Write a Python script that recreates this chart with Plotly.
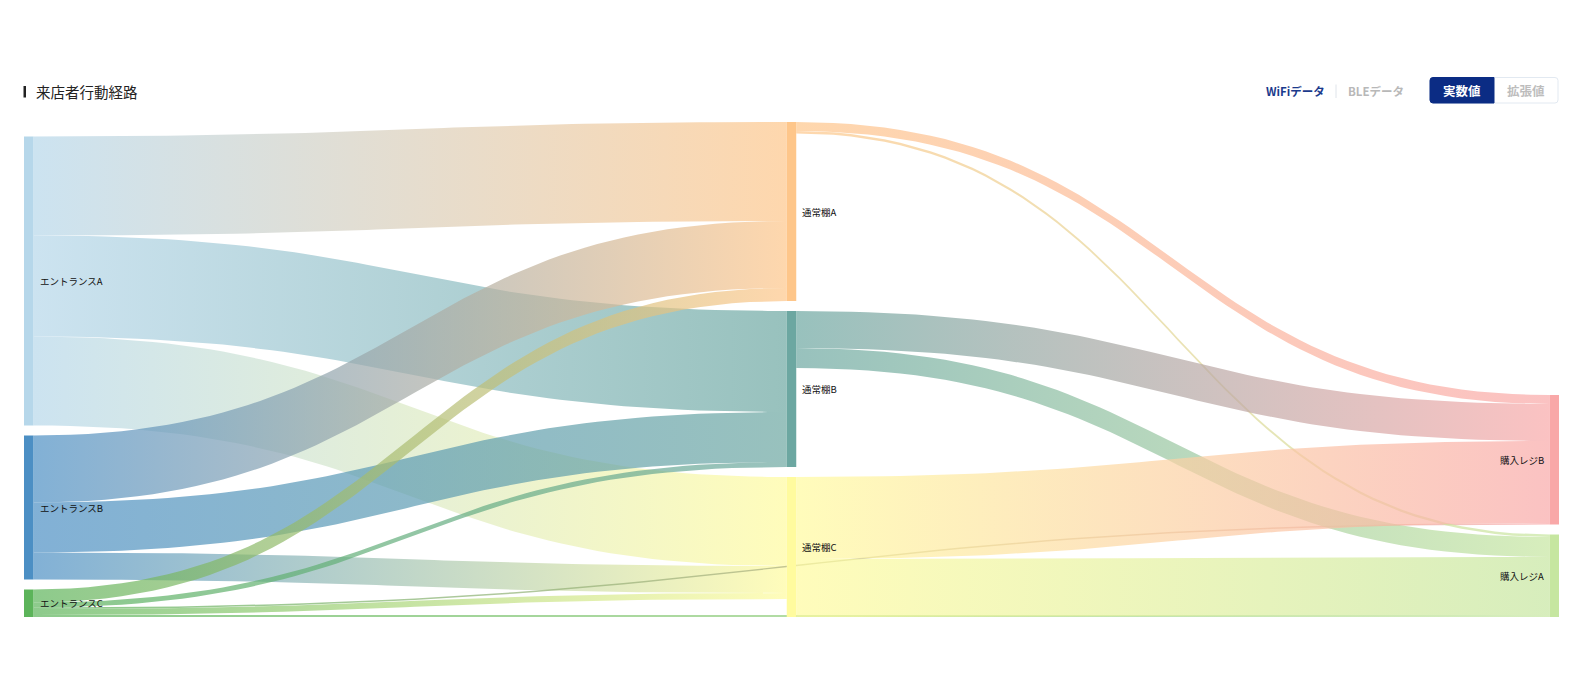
import numpy as np
import plotly.graph_objects as go

# ---------------- data ----------------
node_labels = ["エントランスA", "エントランスB", "エントランスC",
               "通常棚A", "通常棚B", "通常棚C",
               "購入レジB", "購入レジA"]
node_depth = [0, 0, 0, 1, 1, 1, 2, 2]
node_colors = ["#b6d7ea", "#4c8fc4", "#5cb45a",
               "#fec68a", "#6ca7a1", "#fffb9e",
               "#f9a8a8", "#c6e6a0"]

link_source = [0, 0, 0, 1, 1, 1, 2, 2, 2, 2, 2, 3, 3, 4, 4, 5, 5]
link_target = [3, 4, 5, 3, 4, 5, 3, 4, 5, 6, 7, 6, 7, 6, 7, 6, 7]
link_value = [99, 101, 89, 67, 50, 27, 13, 5, 6, 1.5, 2, 9, 2.5, 37, 20, 82, 58]

title_text = "来店者行動経路"
tab_labels = ["WiFiデータ", "BLEデータ"]
button_labels = ["実数値", "拡張値"]

# ---------------- layout constants ----------------
W, H = 1580, 700
ML, MR, MT, MB = 24, 21, 122, 83
PW, PH = W - ML - MR, H - MT - MB
NODE_W = 9.5
NODE_PAD = 10
LINK_OPACITY = 0.7
FONT = "Noto Sans CJK JP"

n = len(node_labels)
in_sum = np.zeros(n)
out_sum = np.zeros(n)
for s, t, v in zip(link_source, link_target, link_value):
    out_sum[s] += v
    in_sum[t] += v
node_val = np.maximum(in_sum, out_sum)

max_depth = max(node_depth)
cols = {d: [i for i in range(n) if node_depth[i] == d] for d in range(max_depth + 1)}
col_extent = {d: node_val[c].sum() + (len(c) - 1) * NODE_PAD for d, c in cols.items()}
YMAX = max(col_extent.values())

node_x = np.zeros(n)
node_y0 = np.zeros(n)
for d, c in cols.items():
    y = YMAX - col_extent[d]  # bottom aligned columns
    for i in c:
        node_x[i] = d * (PW - NODE_W) / max_depth
        node_y0[i] = y
        y += node_val[i] + NODE_PAD

# link offsets (source links sorted by target y, target links by source y)
L = len(link_value)
sy = np.zeros(L)
ty = np.zeros(L)
for i in range(n):
    outs = sorted([k for k in range(L) if link_source[k] == i], key=lambda k: node_y0[link_target[k]])
    off = node_y0[i]
    for k in outs:
        sy[k] = off
        off += link_value[k]
    ins = sorted([k for k in range(L) if link_target[k] == i], key=lambda k: node_y0[link_source[k]])
    off = node_y0[i]
    for k in ins:
        ty[k] = off
        off += link_value[k]


def bezier(x0, y0, x1, y1, m=60):
    t = np.linspace(0, 1, m)
    xm = (x0 + x1) / 2
    bx = (1 - t) ** 3 * x0 + 3 * (1 - t) ** 2 * t * xm + 3 * (1 - t) * t ** 2 * xm + t ** 3 * x1
    by = (1 - t) ** 3 * y0 + 3 * (1 - t) ** 2 * t * y0 + 3 * (1 - t) * t ** 2 * y1 + t ** 3 * y1
    return bx, by


fig = go.Figure()

# links
for k in range(L):
    s, t, v = link_source[k], link_target[k], link_value[k]
    x0 = node_x[s] + NODE_W
    x1 = node_x[t]
    tx, tyy = bezier(x0, sy[k], x1, ty[k])
    bx, byy = bezier(x0, sy[k] + v, x1, ty[k] + v)
    xs = np.concatenate([tx, bx[::-1], tx[:1]])
    ys = np.concatenate([tyy, byy[::-1], tyy[:1]])
    fig.add_trace(go.Scatter(
        x=xs, y=ys, mode="lines", fill="toself",
        line=dict(width=0),
        fillgradient=dict(type="horizontal",
                          colorscale=[[0, node_colors[s]], [1, node_colors[t]]]),
        opacity=LINK_OPACITY, hoverinfo="skip", showlegend=False,
    ))

# nodes
for i in range(n):
    x0, x1 = node_x[i], node_x[i] + NODE_W
    y0, y1 = node_y0[i], node_y0[i] + node_val[i]
    fig.add_trace(go.Scatter(
        x=[x0, x1, x1, x0, x0], y=[y0, y0, y1, y1, y0],
        mode="lines", fill="toself", fillcolor=node_colors[i],
        line=dict(width=0), hoverinfo="skip", showlegend=False,
    ))

annotations = []
for i in range(n):
    yc = node_y0[i] + node_val[i] / 2
    if node_depth[i] < max_depth:
        annotations.append(dict(x=node_x[i] + NODE_W + 4, y=yc, xref="x", yref="y",
                                text=node_labels[i], showarrow=False, xanchor="left",
                                yanchor="middle", font=dict(size=9.5, color="#111", family=FONT)))
    else:
        annotations.append(dict(x=node_x[i] - 4, y=yc, xref="x", yref="y",
                                text=node_labels[i], showarrow=False, xanchor="right",
                                yanchor="middle", font=dict(size=9.5, color="#111", family=FONT)))


def px(xp):
    return (xp - ML) / PW


def py(yp):
    return 1 - (yp - MT) / PH


# header texts
annotations.append(dict(x=px(34), y=py(91.5), xref="paper", yref="paper", text=title_text,
                        showarrow=False, xanchor="left", yanchor="middle",
                        font=dict(size=14.5, color="#222", family=FONT)))
annotations.append(dict(x=px(1295.5), y=py(91), xref="paper", yref="paper", text=tab_labels[0],
                        showarrow=False, xanchor="center", yanchor="middle",
                        font=dict(size=11.5, color="#1b3a8c", family=FONT, weight="bold")))
annotations.append(dict(x=px(1375.5), y=py(91), xref="paper", yref="paper", text=tab_labels[1],
                        showarrow=False, xanchor="center", yanchor="middle",
                        font=dict(size=11.5, color="#b8b8b8", family=FONT, weight="bold")))
annotations.append(dict(x=px(1462), y=py(90.5), xref="paper", yref="paper", text=button_labels[0],
                        showarrow=False, xanchor="center", yanchor="middle",
                        font=dict(size=12.5, color="#ffffff", family=FONT, weight="bold")))
annotations.append(dict(x=px(1526), y=py(90.5), xref="paper", yref="paper", text=button_labels[1],
                        showarrow=False, xanchor="center", yanchor="middle",
                        font=dict(size=12.5, color="#bdbdbd", family=FONT, weight="bold")))


def rrect(x0, y0, x1, y1, r, left=True, right=True):
    rl = r if left else 0
    rr = r if right else 0
    p = []
    p.append(f"M {px(x0 + rl)},{py(y0)}")
    p.append(f"L {px(x1 - rr)},{py(y0)}")
    if rr:
        p.append(f"Q {px(x1)},{py(y0)} {px(x1)},{py(y0 + rr)}")
    p.append(f"L {px(x1)},{py(y1 - rr)}")
    if rr:
        p.append(f"Q {px(x1)},{py(y1)} {px(x1 - rr)},{py(y1)}")
    p.append(f"L {px(x0 + rl)},{py(y1)}")
    if rl:
        p.append(f"Q {px(x0)},{py(y1)} {px(x0)},{py(y1 - rl)}")
    p.append(f"L {px(x0)},{py(y0 + rl)}")
    if rl:
        p.append(f"Q {px(x0)},{py(y0)} {px(x0 + rl)},{py(y0)}")
    p.append("Z")
    return " ".join(p)


shapes = [
    dict(type="rect", xref="paper", yref="paper", x0=px(23.5), x1=px(26), y0=py(97.5), y1=py(86),
         fillcolor="#222", line=dict(width=0), layer="above"),
    dict(type="line", xref="paper", yref="paper", x0=px(1336), x1=px(1336), y0=py(84.5), y1=py(98),
         line=dict(color="#dfe4ea", width=1)),
    dict(type="path", xref="paper", yref="paper", path=rrect(1430, 77.5, 1558, 103, 3),
         fillcolor="#ffffff", line=dict(color="#e2e9f1", width=1)),
    dict(type="path", xref="paper", yref="paper", path=rrect(1430, 77.5, 1494, 103, 3, right=False),
         fillcolor="#0b2c84", line=dict(color="#0b2c84", width=1)),
]

fig.update_layout(
    width=W, height=H,
    margin=dict(l=ML, r=MR, t=MT, b=MB, pad=0),
    paper_bgcolor="#ffffff", plot_bgcolor="#ffffff",
    xaxis=dict(range=[0, PW], visible=False, fixedrange=True),
    yaxis=dict(range=[YMAX, 0], visible=False, fixedrange=True),
    hovermode=False, showlegend=False,
    annotations=annotations, shapes=shapes,
    font=dict(family=FONT),
)

fig.write_html("out.html", config={"displayModeBar": False},
               post_script="document.body.style.margin='0';document.body.style.overflow='hidden';")
